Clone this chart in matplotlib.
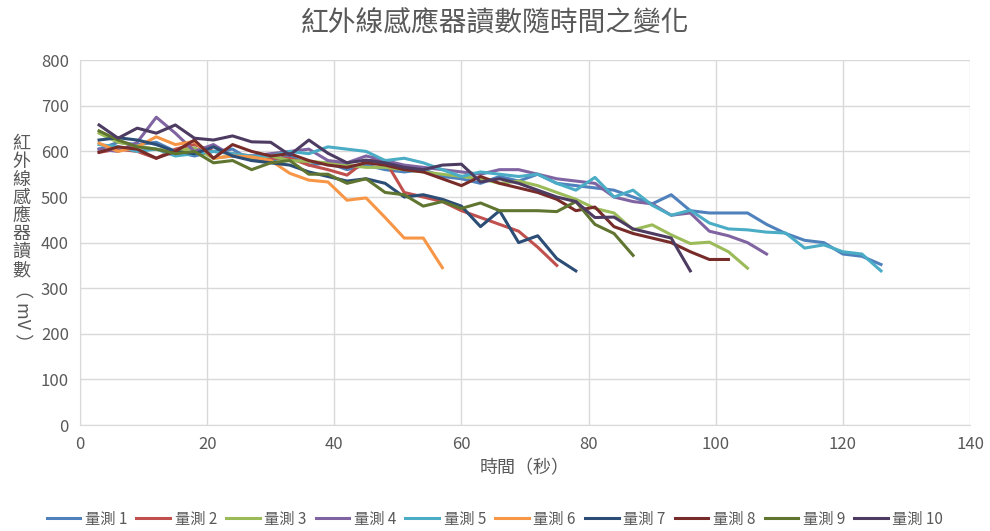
import matplotlib
matplotlib.use("Agg")
import matplotlib.pyplot as plt

plt.rcParams['font.family'] = ['Noto Sans CJK TC', 'DejaVu Sans']

# time axis (s), every 3 s
t = list(range(3, 127, 3))

s1 = [605, 620, 615, 620, 600, 590, 600, 605, 580, 580, 590, 570, 575, 560, 570, 560, 555, 560, 545, 540,
      530, 545, 535, 550, 530, 525, 520, 515, 500, 485, 505, 470, 465, 465, 465, 440, 420, 405, 400, 375,
      370, 352]
s2 = [598, 605, 600, 585, 605, 615, 600, 595, 590, 585, 585, 570, 560, 548, 580, 580, 510, 500, 490, 470,
      455, 440, 425, 390, 350]
s3 = [640, 620, 612, 605, 600, 608, 585, 590, 585, 590, 580, 578, 575, 570, 565, 565, 560, 555, 550, 545,
      540, 530, 535, 525, 510, 495, 475, 465, 428, 439, 417, 398, 401, 380, 344]
s4 = [605, 600, 620, 675, 640, 600, 615, 590, 590, 595, 600, 605, 580, 575, 590, 580, 570, 565, 560, 555,
      550, 560, 560, 550, 540, 535, 530, 500, 490, 485, 460, 465, 425, 415, 400, 375]
s5 = [615, 610, 600, 605, 590, 595, 600, 595, 590, 590, 600, 595, 610, 605, 600, 580, 585, 575, 560, 545,
      555, 550, 545, 550, 530, 515, 543, 500, 515, 482, 460, 471, 443, 430, 428, 423, 421, 388, 395, 380,
      375, 338]
s6 = [618, 600, 610, 632, 615, 622, 585, 590, 588, 580, 552, 537, 533, 493, 498, 455, 410, 410, 345]
s7 = [625, 630, 625, 615, 600, 595, 610, 590, 580, 575, 570, 555, 545, 535, 540, 530, 500, 505, 495, 480,
      435, 470, 400, 415, 365, 338]
s8 = [598, 610, 605, 585, 600, 625, 585, 615, 600, 590, 595, 580, 570, 565, 575, 570, 560, 555, 540, 525,
      545, 530, 520, 510, 495, 470, 478, 435, 420, 410, 400, 380, 363, 363]
s9 = [645, 625, 610, 605, 595, 600, 575, 580, 560, 575, 580, 550, 550, 530, 540, 510, 505, 480, 490, 475,
      487, 470, 470, 470, 468, 490, 440, 420, 372]
s10 = [658, 629, 651, 640, 658, 629, 625, 634, 621, 620, 592, 625, 596, 575, 581, 575, 565, 560, 570, 572,
       533, 540, 530, 515, 500, 490, 455, 456, 430, 420, 410, 338]

series = [s1, s2, s3, s4, s5, s6, s7, s8, s9, s10]
names = ['量測 1', '量測 2', '量測 3', '量測 4', '量測 5', '量測 6', '量測 7', '量測 8', '量測 9', '量測 10']
colors = ['#4F81BD', '#C0504D', '#9BBB59', '#8064A2', '#4BACC6', '#F79646',
          '#2C4D75', '#772C2A', '#5F7530', '#4D3B62']

fig = plt.figure(figsize=(9.9, 5.31), dpi=100)
ax = fig.add_axes([0.0808, 0.1996, 0.899, 0.687])

for s, n, c in zip(series, names, colors):
    ax.plot(t[:len(s)], s, color=c, lw=2.2, label=n, solid_joinstyle='round')

ax.set_xlim(0, 140)
ax.set_ylim(0, 800)
ax.set_xticks(range(0, 141, 20))
ax.set_yticks(range(0, 801, 100))
ax.grid(True, color='#D9D9D9', lw=1)
ax.set_axisbelow(True)
for sp in ['top', 'right']:
    ax.spines[sp].set_visible(False)
for sp in ['left', 'bottom']:
    ax.spines[sp].set_color('#D9D9D9')
ax.tick_params(length=0, labelsize=12, labelcolor='#595959', pad=8)

fig.text(0.5, 0.958, '紅外線感應器讀數隨時間之變化', ha='center', va='center',
         fontsize=20, color='#595959')
fig.text(0.53, 0.118, '時間（秒）', ha='center', va='center', fontsize=13, color='#595959')
fig.text(0.022, 0.61, '\n'.join('紅外線感應器讀數'), ha='center', va='center',
         fontsize=13, color='#595959', linespacing=1.0)
fig.text(0.022, 0.405, '（ mV ）', ha='center', va='center', rotation=-90,
         fontsize=13, color='#595959')

fig.legend(loc='center', bbox_to_anchor=(0.5, 0.022), ncol=10, frameon=False,
           fontsize=11, handlelength=2.2, handletextpad=0.3, columnspacing=0.6,
           labelcolor='#595959')

fig.savefig('out.png', dpi=100)
